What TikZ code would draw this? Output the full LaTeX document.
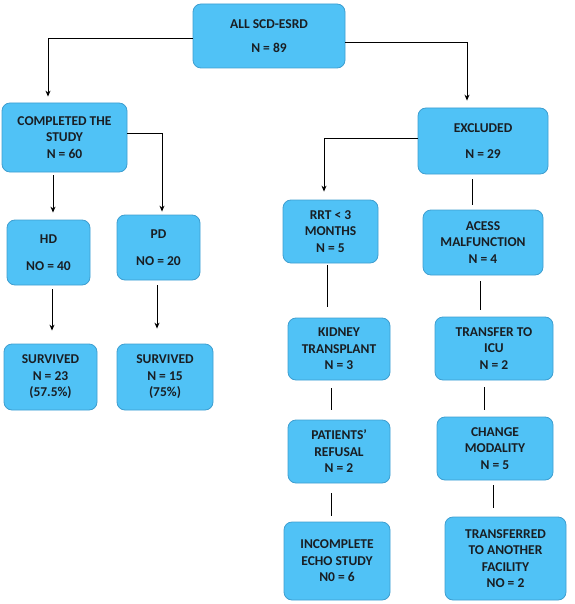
\documentclass[tikz,border=0pt]{standalone}
\usepackage{fontspec}
\setmainfont{Carlito}
\usetikzlibrary{arrows.meta}
\definecolor{boxfill}{RGB}{80,194,246}
\definecolor{boxedge}{RGB}{62,158,208}
\definecolor{boxtext}{RGB}{25,30,35}
\tikzset{
  box/.style={rounded corners=8pt, fill=boxfill, draw=boxedge, line width=0.8pt,
    align=center, inner sep=0pt, text=boxtext, font=\fontsize{13.5}{16.5}\selectfont\bfseries},
  arr/.style={-{Stealth[length=6pt,width=5pt]}, line width=1pt},
  link/.style={line width=1pt}
}
\begin{document}
\begin{tikzpicture}[x=1pt,y=-1pt]
  \useasboundingbox (0,0) rectangle (574,604);
  % boxes
  \node[box, minimum width=152pt, minimum height=64pt] (all) at (269,36) {ALL SCD-ESRD\\[8pt]N = 89};
  \node[box, minimum width=125pt, minimum height=69pt] (completed) at (64.5,137.5) {COMPLETED THE\\STUDY\\N = 60};
  \node[box, minimum width=130pt, minimum height=66pt] (excluded) at (483,141) {EXCLUDED\\[10pt]N = 29};
  \node[box, minimum width=83pt, minimum height=65pt] (hd) at (48.5,252.5) {HD\\[10pt]NO = 40};
  \node[box, minimum width=83pt, minimum height=65pt] (pd) at (158.5,247.5) {PD\\[10pt]NO = 20};
  \node[box, minimum width=93pt, minimum height=66pt] (survhd) at (50.5,377) {SURVIVED\\N = 23\\(57.5\%)};
  \node[box, minimum width=96pt, minimum height=66pt] (survpd) at (165,377) {SURVIVED\\N = 15\\(75\%)};
  \node[box, minimum width=95pt, minimum height=63pt] (rrt) at (330.5,231.5) {RRT < 3\\MONTHS\\N = 5};
  \node[box, minimum width=120pt, minimum height=65pt] (acess) at (483,242.5) {ACESS\\MALFUNCTION\\N = 4};
  \node[box, minimum width=102pt, minimum height=62pt] (kidney) at (339,349) {KIDNEY\\TRANSPLANT\\N = 3};
  \node[box, minimum width=118pt, minimum height=63pt] (icu) at (494,348.5) {TRANSFER TO\\ICU\\N = 2};
  \node[box, minimum width=102pt, minimum height=63pt] (refusal) at (339,451.5) {PATIENTS’\\REFUSAL\\N = 2};
  \node[box, minimum width=116pt, minimum height=63pt] (modality) at (495,448.5) {CHANGE\\MODALITY\\N = 5};
  \node[box, minimum width=106pt, minimum height=78pt] (echo) at (337,561) {INCOMPLETE\\ECHO STUDY\\N0 = 6};
  \node[box, minimum width=121pt, minimum height=83pt] (facility) at (505.5,558.5) {TRANSFERRED\\TO ANOTHER\\FACILITY\\NO = 2};
  % elbow arrows
  \draw[arr, shorten >=6pt] ([yshift=-3pt]all.west) -| ([xshift=-16.5pt]completed.north);
  \draw[arr, shorten >=7pt] ([yshift=-7pt]all.east) -| ([xshift=-16pt]excluded.north);
  \draw[arr, shorten >=3pt] ([yshift=3.5pt]completed.east) -| ([xshift=3.5pt]pd.north);
  \draw[arr, shorten >=8pt] ([yshift=2pt]excluded.west) -| ([xshift=-6.5pt]rrt.north);
  % straight arrows
  \foreach \a/\b/\x/\s/\e in {completed/hd/53/3/7, hd/survhd/52/4/13, pd/survpd/157/5/15}
    \draw[arr, shorten <=\s pt, shorten >=\e pt] (\a.south -| \x,0) -- (\b.north -| \x,0);
  % plain lines
  \foreach \a/\b/\x/\s/\e in {excluded/acess/472/5/5, rrt/kidney/327/2/11, acess/icu/480/6/7,
      kidney/refusal/331/8/10, icu/modality/484/7/7, refusal/echo/331/10/6, modality/facility/493/5/9}
    \draw[link, shorten <=\s pt, shorten >=\e pt] (\a.south -| \x,0) -- (\b.north -| \x,0);
\end{tikzpicture}
\end{document}
